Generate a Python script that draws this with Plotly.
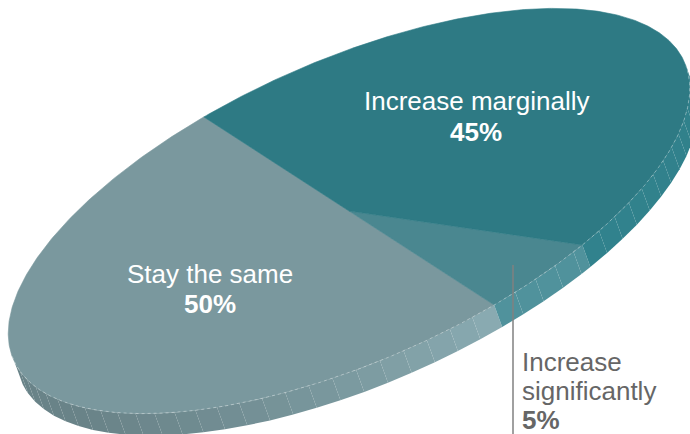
import numpy as np
import plotly.graph_objects as go

# ---- data ----
labels = ["Stay the same", "Increase significantly", "Increase marginally"]
values = [50, 5, 45]
pct_text = ["50%", "5%", "45%"]

# ---- style ----
top_colors = [(122, 152, 158), (74, 135, 144), (46, 122, 132)]
# side shading factors (start of slice, end of slice)
side_shade = [(0.86, 1.13), (1.08, 1.08), (1.07, 1.0)]
START = 104.9          # start angle (deg) of first slice in pie's own plane
CX, CY = 349.0, 211.0  # pie centre in page coords
RA, RB = 367.0, 150.0  # projected semi-axes
TILT = np.radians(24.0)
EXT = np.array([8.0, 22.0])  # thickness vector of the pie (screen)
W, H = 690, 434
FONT = "Liberation Sans, Arial, Helvetica, sans-serif"

ux, uy = np.cos(TILT), -np.sin(TILT)
vx, vy = -np.sin(TILT), -np.cos(TILT)


def pt(t_deg, r=1.0):
    t = np.radians(t_deg)
    a = r * RA * np.cos(t)
    b = r * RB * np.sin(t)
    return CX + a * ux + b * vx, CY + a * uy + b * vy


def facing(t_deg):
    t = np.radians(t_deg)
    na, nb = np.cos(t) / RA, np.sin(t) / RB
    nx, ny = na * ux + nb * vx, na * uy + nb * vy
    return nx * EXT[0] + ny * EXT[1]


def rgb(c, f=1.0):
    return "rgb(%d,%d,%d)" % tuple(int(max(0, min(255, round(v * f)))) for v in c)


total = float(sum(values))
bounds = [START]
for v in values:
    bounds.append(bounds[-1] + 360.0 * v / total)

fig = go.Figure()

# ---- side walls ----
CHUNK = 4.0
for i in range(len(values)):
    t0, t1 = bounds[i], bounds[i + 1]
    grid = np.arange(t0, t1 + 1e-9, 0.25)
    if grid[-1] < t1:
        grid = np.append(grid, t1)
    edges = np.arange(t0, t1, CHUNK).tolist() + [t1]
    for k in range(len(edges) - 1):
        a0, a1 = edges[k], edges[k + 1]
        sel = grid[(grid >= a0 - 1e-9) & (grid <= a1 + 1e-9)]
        sel = np.array([t for t in sel if facing(t) > 0])
        if len(sel) < 2:
            continue
        xs_top, ys_top = zip(*[pt(t) for t in sel])
        xs = list(xs_top) + [x + EXT[0] for x in xs_top[::-1]]
        ys = list(ys_top) + [y + EXT[1] for y in ys_top[::-1]]
        frac = ((a0 + a1) / 2 - t0) / (t1 - t0)
        s0, s1 = side_shade[i]
        f = s0 + (s1 - s0) * frac
        if i == 0:
            f = s0 + (s1 - s0) * max(0.0, (frac - 0.55) / 0.45) ** 1.5
        col = rgb(top_colors[i], f)
        fig.add_trace(go.Scatter(x=xs + [xs[0]], y=ys + [ys[0]], mode="lines",
                                 fill="toself", fillcolor=col,
                                 line=dict(width=0, color=col),
                                 hoverinfo="skip", showlegend=False))

# ---- top faces ----
for i in range(len(values)):
    t0, t1 = bounds[i], bounds[i + 1]
    ts = np.linspace(t0, t1, max(3, int((t1 - t0) / 0.5)))
    px, py = zip(*[pt(t) for t in ts])
    xs = [CX] + list(px) + [CX]
    ys = [CY] + list(py) + [CY]
    col = rgb(top_colors[i])
    fig.add_trace(go.Scatter(x=xs, y=ys, mode="lines", fill="toself",
                             fillcolor=col, line=dict(width=0.6, color=col),
                             hoverinfo="skip", showlegend=False, name=labels[i]))

# ---- crease highlight on visible front edge ----
tf = np.arange(bounds[0], bounds[-1], 0.25)
tf = [t for t in tf if facing(t) > 0]
cx_, cy_ = zip(*[pt(t) for t in tf])
fig.add_trace(go.Scatter(x=cx_, y=cy_, mode="lines",
                         line=dict(width=0.8, color="rgba(255,255,255,0.45)", dash="dot"),
                         hoverinfo="skip", showlegend=False))

# ---- labels ----
SZ = 26
ann = []
ann.append(dict(x=210, y=283 - 9, text=labels[0], showarrow=False,
                font=dict(family=FONT, size=SZ, color="white"), xanchor="center", yanchor="middle"))
ann.append(dict(x=210, y=313 - 9, text="<b>%s</b>" % pct_text[0], showarrow=False,
                font=dict(family=FONT, size=SZ, color="white"), xanchor="center", yanchor="middle"))
ann.append(dict(x=476, y=110 - 9, text=labels[2], showarrow=False,
                font=dict(family=FONT, size=SZ, color="white"), xanchor="center", yanchor="middle"))
ann.append(dict(x=476, y=141 - 9, text="<b>%s</b>" % pct_text[2], showarrow=False,
                font=dict(family=FONT, size=SZ, color="white"), xanchor="center", yanchor="middle"))
words = labels[1].split(" ")
for txt, base in [(words[0], 371), (words[1], 400), ("<b>%s</b>" % pct_text[1], 429)]:
    ann.append(dict(x=520, y=base - 9, text=txt, showarrow=False,
                    font=dict(family=FONT, size=SZ, color="#666666"), xanchor="left", yanchor="middle"))

fig.update_layout(
    width=W, height=H, margin=dict(l=0, r=0, t=0, b=0),
    paper_bgcolor="white", plot_bgcolor="white", showlegend=False,
    xaxis=dict(range=[0, W], visible=False, fixedrange=True),
    yaxis=dict(range=[H, 0], visible=False, fixedrange=True),
    annotations=ann,
    shapes=[dict(type="line", x0=513, x1=513, y0=265, y1=H, xref="x", yref="y",
                 line=dict(color="#808080", width=1.5))],
)

fig.write_html("out.html", config={"displayModeBar": False})
